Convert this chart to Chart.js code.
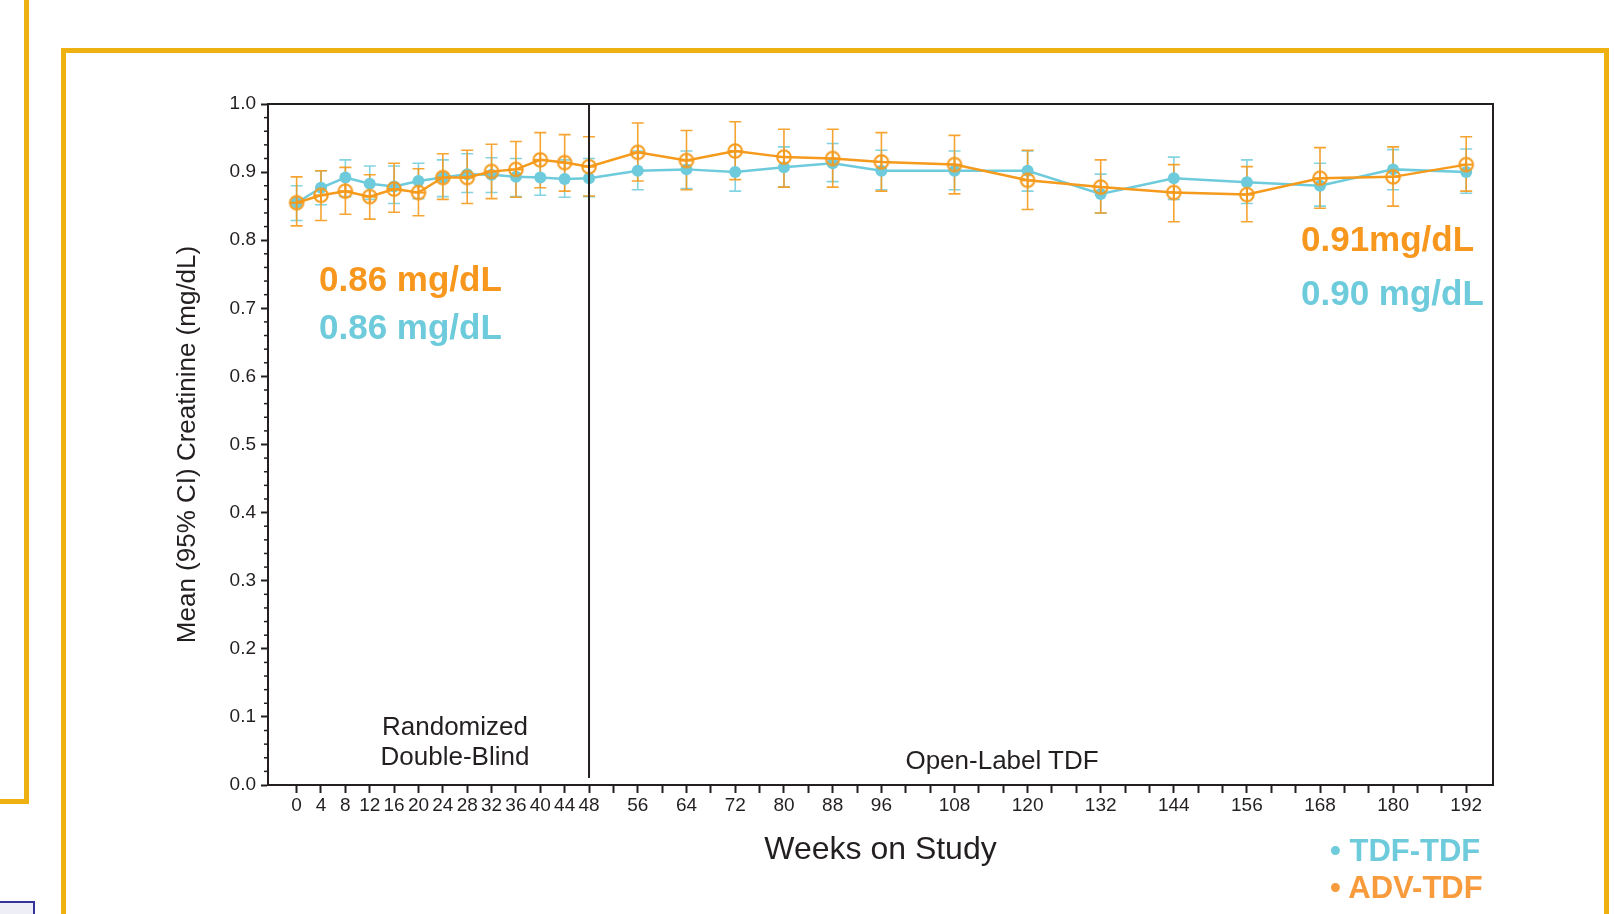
<!DOCTYPE html>
<html>
<head>
<meta charset="utf-8">
<script src="https://cdn.jsdelivr.net/npm/chart.js@4"></script>
<style>
  html, body { margin: 0; padding: 0; background: #fff; }
  body { width: 1614px; height: 914px; position: relative; overflow: hidden; font-family: "Liberation Sans", Arial, sans-serif; }
  #chart { position: absolute; left: 0; top: 0; }
  .frame { position: absolute; border: 5px solid #EEB111; box-sizing: border-box; }
  .txt { position: absolute; line-height: 1; white-space: nowrap; transform: translateY(-50%); }
  .big { font-weight: bold; font-size: 35px; }
  .note { font-size: 26px; color: #231F20; }
  .leg { font-weight: bold; font-size: 31px; }
  .orange { color: #F7971E; }
  .cyan { color: #6DCBDC; }
</style>
</head>
<body>
<div class="frame" style="left:-10px; top:-10px; width:39px; height:814px;"></div>
<div class="frame" style="left:61px; top:48px; width:1548px; height:900px;"></div>
<div style="position:absolute; left:-2px; top:901px; width:33px; height:20px; border:2px solid #333399; background:#EEEEF6;"></div>

<canvas id="chart" width="1614" height="914"></canvas>

<div class="txt big orange" style="left:319px; top:278px;">0.86 mg/dL</div>
<div class="txt big cyan" style="left:319px; top:326px;">0.86 mg/dL</div>
<div class="txt big orange" style="left:1301px; top:238px;">0.91mg/dL</div>
<div class="txt big cyan" style="left:1301px; top:292px;">0.90 mg/dL</div>
<div class="txt note" style="left:455px; top:726px; transform:translate(-50%,-50%);">Randomized</div>
<div class="txt note" style="left:455px; top:756px; transform:translate(-50%,-50%);">Double-Blind</div>
<div class="txt note" style="left:1002px; top:760px; transform:translate(-50%,-50%);">Open-Label TDF</div>
<div class="txt leg cyan" style="left:1330px; top:850px;">&bull; TDF-TDF</div>
<div class="txt leg" style="left:1330px; top:887px; color:#F89B3C;">&bull; ADV-TDF</div>

<script>
// weeks on study
const weeks = [0, 4, 8, 12, 16, 20, 24, 28, 32, 36, 40, 44, 48, 56, 64, 72, 80, 88, 96, 108, 120, 132, 144, 156, 168, 180, 192];
const xLabels = [0, 4, 8, 12, 16, 20, 24, 28, 32, 36, 40, 44, 48, 56, 64, 72, 80, 88, 96, 108, 120, 132, 144, 156, 168, 180, 192];

// TDF-TDF mean creatinine and 95% CI
const tdfMean = [0.855, 0.877, 0.892, 0.883, 0.879, 0.887, 0.892, 0.897, 0.896, 0.893, 0.892, 0.890, 0.891, 0.902, 0.904, 0.900, 0.907, 0.913, 0.902, 0.902, 0.902, 0.868, 0.891, 0.885, 0.880, 0.904, 0.900];
const tdfLow = [0.829, 0.852, 0.864, 0.860, 0.854, 0.861, 0.864, 0.870, 0.870, 0.864, 0.866, 0.863, 0.864, 0.874, 0.876, 0.872, 0.878, 0.886, 0.874, 0.874, 0.872, 0.840, 0.860, 0.854, 0.850, 0.874, 0.869];
const tdfHigh = [0.880, 0.902, 0.918, 0.909, 0.909, 0.913, 0.918, 0.927, 0.921, 0.920, 0.918, 0.918, 0.920, 0.931, 0.931, 0.930, 0.937, 0.942, 0.932, 0.931, 0.931, 0.897, 0.922, 0.918, 0.913, 0.933, 0.934];

// ADV-TDF mean creatinine and 95% CI
const advMean = [0.855, 0.866, 0.872, 0.864, 0.875, 0.870, 0.892, 0.892, 0.901, 0.904, 0.918, 0.914, 0.908, 0.929, 0.917, 0.931, 0.922, 0.920, 0.915, 0.911, 0.888, 0.878, 0.870, 0.867, 0.891, 0.893, 0.911];
const advLow = [0.821, 0.829, 0.838, 0.831, 0.841, 0.836, 0.860, 0.854, 0.861, 0.863, 0.877, 0.872, 0.865, 0.887, 0.874, 0.889, 0.878, 0.878, 0.872, 0.868, 0.845, 0.840, 0.827, 0.827, 0.847, 0.850, 0.872];
const advHigh = [0.893, 0.902, 0.907, 0.896, 0.913, 0.905, 0.927, 0.932, 0.941, 0.945, 0.958, 0.955, 0.952, 0.972, 0.961, 0.974, 0.963, 0.963, 0.958, 0.954, 0.932, 0.918, 0.911, 0.908, 0.936, 0.937, 0.952];

const yTicks = [0, 0.1, 0.2, 0.3, 0.4, 0.5, 0.6, 0.7, 0.8, 0.9, 1.0];
const switchWeek = 48;

const CYAN = "#6DCBDC";
const ORANGE = "#F59A1C";

// open circle with a plus inside, for the ADV-TDF markers
function plusCircle(color) {
  const c = document.createElement("canvas");
  c.width = 18; c.height = 18;
  const g = c.getContext("2d");
  g.strokeStyle = color;
  g.lineWidth = 2;
  g.beginPath(); g.arc(9, 9, 6.8, 0, Math.PI * 2); g.stroke();
  g.beginPath(); g.moveTo(2.2, 9); g.lineTo(15.8, 9); g.moveTo(9, 2.2); g.lineTo(9, 15.8); g.stroke();
  return c;
}

const extras = {
  id: "extras",
  beforeDatasetsDraw(chart) {
    const { ctx, scales: { x, y } } = chart;
    const bars = [
      { low: tdfLow, high: tdfHigh, color: "rgba(109,203,220,0.85)" },
      { low: advLow, high: advHigh, color: "rgba(245,154,28,0.9)" },
    ];
    ctx.save();
    ctx.lineWidth = 1.6;
    bars.forEach((b) => {
      ctx.strokeStyle = b.color;
      weeks.forEach((w, i) => {
        const px = x.getPixelForValue(w);
        const y1 = y.getPixelForValue(b.low[i]);
        const y2 = y.getPixelForValue(b.high[i]);
        ctx.beginPath();
        ctx.moveTo(px, y1); ctx.lineTo(px, y2);
        ctx.moveTo(px - 6, y1); ctx.lineTo(px + 6, y1);
        ctx.moveTo(px - 6, y2); ctx.lineTo(px + 6, y2);
        ctx.stroke();
      });
    });
    ctx.restore();
  },
  afterDraw(chart) {
    const { ctx, chartArea: a, scales: { x, y } } = chart;
    ctx.save();
    ctx.strokeStyle = "#231F20";
    // top and right frame
    ctx.lineWidth = 2;
    ctx.beginPath();
    ctx.moveTo(a.left, a.top); ctx.lineTo(a.right, a.top); ctx.lineTo(a.right, a.bottom);
    ctx.stroke();
    // week 48 divider
    const sx = x.getPixelForValue(switchWeek);
    ctx.beginPath(); ctx.moveTo(sx, a.top); ctx.lineTo(sx, a.bottom - 7); ctx.stroke();
    // minor y ticks
    ctx.lineWidth = 1.5;
    for (let k = 0; k <= 50; k++) {
      if (k % 5 === 0) continue;
      const py = y.getPixelForValue(k * 0.02);
      ctx.beginPath(); ctx.moveTo(a.left - 4, py); ctx.lineTo(a.left, py); ctx.stroke();
    }
    ctx.restore();
  },
};

new Chart(document.getElementById("chart"), {
  type: "line",
  data: {
    datasets: [
      {
        label: "ADV-TDF",
        data: weeks.map((w, i) => ({ x: w, y: advMean[i] })),
        borderColor: ORANGE,
        borderWidth: 2.5,
        pointStyle: plusCircle(ORANGE),
        pointRadius: 7,
        tension: 0,
      },
      {
        label: "TDF-TDF",
        data: weeks.map((w, i) => ({ x: w, y: tdfMean[i] })),
        borderColor: CYAN,
        backgroundColor: CYAN,
        borderWidth: 2.5,
        pointStyle: "circle",
        pointRadius: 6,
        pointBorderWidth: 0,
        pointBackgroundColor: CYAN,
        tension: 0,
      },
    ],
  },
  options: {
    responsive: false,
    animation: false,
    devicePixelRatio: 1,
    layout: { padding: { left: 168, top: 104, right: 121, bottom: 41 } },
    plugins: { legend: { display: false }, tooltip: { enabled: false } },
    scales: {
      x: {
        type: "linear",
        min: -4.7,
        max: 196.4,
        afterBuildTicks: (s) => {
          const t = [];
          for (let w = 0; w <= 192; w += 4) t.push({ value: w });
          s.ticks = t;
        },
        afterFit: (s) => { s.height = 88; },
        ticks: {
          autoSkip: false,
          maxRotation: 0,
          padding: 1,
          color: "#231F20",
          font: { family: "Liberation Sans", size: 19 },
          callback: (v) => (xLabels.includes(v) ? String(v) : ""),
        },
        grid: { drawOnChartArea: false, tickLength: 8, tickColor: "#231F20", tickWidth: 2 },
        border: { color: "#231F20", width: 2 },
        title: {
          display: true,
          text: "Weeks on Study",
          color: "#231F20",
          font: { family: "Liberation Sans", size: 32 },
        },
      },
      y: {
        min: 0,
        max: 1,
        afterBuildTicks: (s) => { s.ticks = yTicks.map((v) => ({ value: v })); },
        afterFit: (s) => { s.width = 100; },
        ticks: {
          padding: 5,
          color: "#231F20",
          font: { family: "Liberation Sans", size: 19 },
          callback: (v) => v.toFixed(1),
        },
        grid: { drawOnChartArea: false, tickLength: 7, tickColor: "#231F20", tickWidth: 2 },
        border: { color: "#231F20", width: 2 },
        title: {
          display: true,
          text: "Mean (95% CI) Creatinine (mg/dL)",
          color: "#231F20",
          font: { family: "Liberation Sans", size: 26 },
        },
      },
    },
  },
  plugins: [extras],
});
</script>
</body>
</html>
